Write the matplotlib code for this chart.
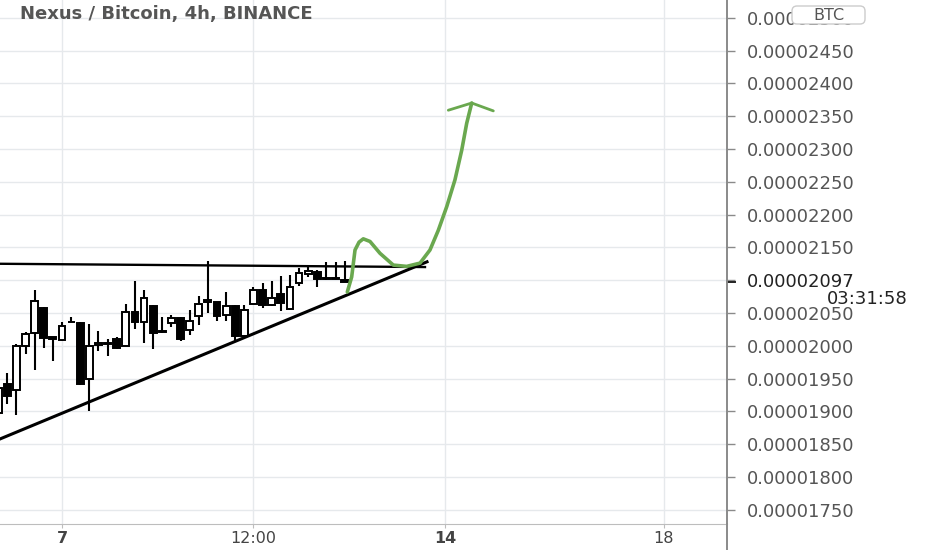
import numpy as np
import matplotlib.pyplot as plt
from matplotlib.lines import Line2D
from matplotlib.patches import FancyBboxPatch
from matplotlib.transforms import IdentityTransform
from matplotlib.ticker import FuncFormatter

# 4h candles, prices in satoshi (1e-8 BTC), x in days
first_day = 5 + 5 / 6
opens = [1898, 1942, 1933, 2000, 2020, 2058, 2013, 2009, 2036, 2035,
         1950, 2001, 2004, 2011, 2000, 2052, 2037, 2061, 2023, 2035,
         2043, 2024, 2046, 2066, 2066, 2047, 2061, 2015, 2064, 2085,
         2062, 2079, 2056, 2095, 2109, 2113, 2102, 2102, 2101]
highs = [1940, 1959, 2003, 2021, 2085, 2059, 2014, 2037, 2044, 2036,
         2033, 2023, 2011, 2013, 2063, 2099, 2085, 2062, 2044, 2047,
         2044, 2054, 2076, 2129, 2067, 2082, 2062, 2062, 2090, 2095,
         2099, 2106, 2108, 2118, 2123, 2116, 2128, 2128, 2129]
lows = [1894, 1911, 1895, 1988, 1963, 1997, 1977, 2008, 2036, 1940,
        1901, 1992, 1985, 1995, 2000, 2025, 2004, 1995, 2019, 2028,
        2008, 2016, 2032, 2050, 2038, 2038, 2006, 2013, 2063, 2057,
        2060, 2053, 2055, 2091, 2105, 2090, 2101, 2102, 2097]
closes = [1936, 1923, 2000, 2018, 2069, 2012, 2010, 2030, 2037, 1942,
          1999, 2005, 2003, 1996, 2052, 2037, 2073, 2020, 2021, 2043,
          2010, 2038, 2063, 2070, 2046, 2060, 2015, 2055, 2085, 2062,
          2073, 2065, 2090, 2111, 2114, 2102, 2103, 2103, 2097]
last_price = 2097
countdown = "03:31:58"

# drawn lines
res_x = [5.867, 13.635]
res_y = [2125, 2120]
sup_x = [5.867, 13.672]
sup_y = [1858, 2128]
path_x = [12.215, 12.295, 12.356, 12.430, 12.507, 12.630, 12.812, 13.056,
          13.300, 13.544, 13.726, 13.878, 14.032, 14.183, 14.306, 14.397, 14.489]
path_y = [2082, 2105, 2146, 2158, 2163, 2159, 2141, 2123,
          2121, 2126, 2146, 2176, 2212, 2253, 2298, 2339, 2370]
head_x = [14.061, 14.489, 14.884]
head_y = [2359, 2370, 2358]

tick_days = [7, 10.5, 14, 18]
tick_names = ['7', '12:00', '14', '18']
price_ticks = list(range(1750, 2501, 50))

times = first_day + np.arange(len(opens)) / 6

W, H = 932, 550
fig = plt.figure(figsize=(W / 100, H / 100), dpi=100)
ax = fig.add_axes([0, 26 / H, 727 / W, 524 / H])

for t in tick_days:
    ax.axvline(t, color='#e6e9ec', lw=1, zorder=0)
for p in price_ticks:
    ax.axhline(p, color='#e6e9ec', lw=1, zorder=0)

# candles
o = np.array(opens)
c = np.array(closes)
up = c >= o
ax.vlines(times, lows, highs, color='black', lw=1.5, zorder=2)
body = np.maximum(np.abs(c - o), 0.3)
ax.bar(times, body, bottom=np.minimum(o, c), width=0.125,
       color=np.where(up, 'white', 'black'), edgecolor='black', lw=1.4, zorder=3)

ax.plot(res_x, res_y, color='black', lw=1.7, zorder=4)
ax.plot(sup_x, sup_y, color='black', lw=2.2, zorder=4)
ax.plot(path_x, path_y, color='#6aa84f', lw=2.6, solid_capstyle='round',
        solid_joinstyle='round', zorder=5)
ax.plot(head_x, head_y, color='#6aa84f', lw=2.0, solid_capstyle='round', zorder=5)

ax.set_xlim(5.867, 19.155)
ax.set_ylim(1728.4, 2527.0)

ax.spines['top'].set_visible(False)
ax.spines['left'].set_visible(False)
ax.spines['right'].set_color('#8a8a8a')
ax.spines['right'].set_linewidth(1.4)
ax.spines['bottom'].set_color('#bdbdbd')

ax.yaxis.tick_right()
ax.set_yticks(price_ticks)
ax.yaxis.set_major_formatter(FuncFormatter(
    lambda v, pos: '' if abs(v - 2100) < 1 else f"{v / 1e8:.8f}"))
ax.tick_params(axis='y', length=6, width=1, color='#8a8a8a', pad=8,
               labelsize=13, labelcolor='#555555')

ax.set_xticks(tick_days)
ax.set_xticklabels(tick_names)
ax.tick_params(axis='x', length=3, color='#bdbdbd', pad=2,
               labelsize=11.5, labelcolor='#444444')
for lbl in ax.get_xticklabels():
    if lbl.get_text() in ('7', '14'):
        lbl.set_fontweight('bold')

# last price marker
ytr = ax.get_yaxis_transform()
ax.plot([1.0, 1.011], [last_price, last_price], transform=ytr,
        color='#222222', lw=1.4, clip_on=False)
ax.text(1.028, last_price, f"{last_price / 1e8:.8f}", transform=ytr,
        ha='left', va='center', fontsize=13, color='#222222')
ax.annotate(countdown, xy=(1, last_price), xycoords=ytr,
            xytext=(181, -17), textcoords='offset pixels',
            ha='right', va='center', fontsize=13, color='#222222',
            annotation_clip=False)

fig.add_artist(Line2D([727 / W, 727 / W], [0, 26 / H], transform=fig.transFigure,
                      color='#8a8a8a', lw=1.4))

fig.text(20 / W, 1 - 14 / H, 'Nexus / Bitcoin, 4h, BINANCE', ha='left', va='center',
         fontsize=13, fontweight='bold', color='#555555')
fig.add_artist(FancyBboxPatch((792, H - 24), 73, 18, boxstyle='round,pad=0,rounding_size=5',
                              transform=IdentityTransform(), facecolor='white',
                              edgecolor='#cccccc', lw=1, zorder=9))
fig.text(828.5 / W, 1 - 15 / H, 'BTC', ha='center', va='center', fontsize=11.5,
         color='#555555', zorder=10)

fig.savefig('out.png', dpi=100)
